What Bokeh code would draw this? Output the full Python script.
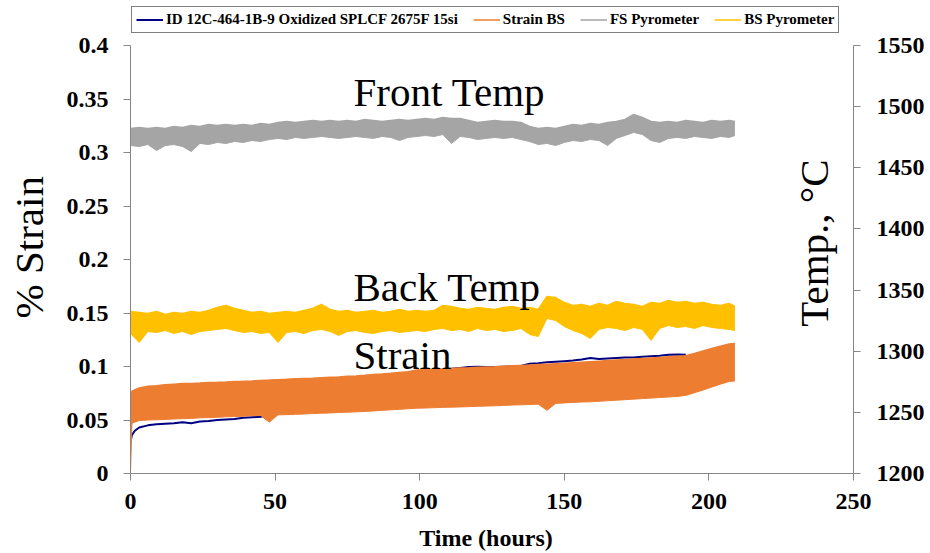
from bokeh.plotting import figure
from bokeh.models import Range1d, LinearAxis, FixedTicker, Legend, LegendItem, Label
from bokeh.embed import file_html
from bokeh.resources import INLINE

# ---------------- data ----------------
TIME = [0, 3, 6, 9, 12, 15, 18, 21, 24, 27, 30, 33, 36, 39, 42, 45, 48, 51, 54, 57,
        60, 63, 66, 69, 72, 75, 78, 81, 84, 87, 90, 93, 96, 99, 102, 105, 108, 111, 114, 117,
        120, 123, 126, 129, 132, 135, 138, 141, 144, 147, 150, 153, 156, 159, 162, 165, 168, 171, 174, 177,
        180, 183, 186, 189, 192, 195, 198, 201, 204, 207, 209]

FS_TOP = [1482.1, 1482.9, 1482.1, 1482.9, 1482.1, 1483.8, 1482.9, 1484.6, 1483.8, 1485.4,
          1484.6, 1485.4, 1484.6, 1485.4, 1484.6, 1486.2, 1485.4, 1487.0, 1487.9, 1487.0,
          1487.9, 1488.7, 1487.9, 1488.7, 1487.9, 1488.7, 1487.9, 1489.5, 1488.7, 1487.9,
          1488.7, 1489.5, 1488.7, 1489.5, 1490.3, 1489.5, 1491.1, 1490.3, 1490.3, 1488.7,
          1487.0, 1487.9, 1488.7, 1487.9, 1487.9, 1487.0, 1483.8, 1482.1, 1482.9, 1482.1,
          1483.8, 1485.4, 1484.6, 1486.2, 1485.4, 1487.0, 1487.9, 1489.5, 1493.6, 1491.1,
          1487.9, 1487.0, 1487.9, 1487.0, 1488.7, 1487.9, 1487.0, 1488.7, 1487.9, 1488.7,
          1487.9]
FS_BOTTOM = [1468.2, 1467.4, 1469.0, 1464.1, 1468.2, 1469.0, 1467.4, 1463.3, 1469.9, 1469.0,
             1470.7, 1469.9, 1471.5, 1470.7, 1472.3, 1471.5, 1473.1, 1474.0, 1473.1, 1474.8,
             1474.0, 1474.8, 1475.6, 1474.8, 1474.0, 1474.8, 1475.6, 1474.8, 1474.0, 1475.6,
             1474.8, 1472.3, 1474.8, 1475.6, 1476.4, 1475.6, 1477.2, 1469.9, 1475.6, 1474.8,
             1473.1, 1474.0, 1474.8, 1474.0, 1474.8, 1473.1, 1471.5, 1469.0, 1469.9, 1468.2,
             1470.7, 1472.3, 1471.5, 1473.1, 1472.3, 1468.2, 1474.0, 1476.4, 1478.9, 1477.2,
             1472.3, 1470.7, 1474.0, 1474.8, 1474.0, 1475.6, 1474.8, 1474.0, 1475.6, 1474.8,
             1476.4]

BS_TOP = [1332.5, 1331.7, 1330.8, 1332.5, 1330.0, 1331.7, 1330.8, 1332.5, 1331.7, 1333.3,
          1335.8, 1337.4, 1334.9, 1333.3, 1331.7, 1332.5, 1330.8, 1331.7, 1332.5, 1331.7,
          1333.3, 1334.9, 1338.2, 1334.1, 1332.5, 1333.3, 1331.7, 1332.5, 1333.3, 1331.7,
          1332.5, 1334.1, 1332.5, 1333.3, 1332.5, 1333.3, 1337.4, 1336.6, 1334.9, 1334.1,
          1335.8, 1334.9, 1334.1, 1335.8, 1336.6, 1334.9, 1335.8, 1334.1, 1344.8, 1343.9,
          1339.8, 1337.4, 1338.2, 1336.6, 1339.0, 1337.4, 1340.7, 1339.0, 1338.2, 1336.6,
          1339.8, 1339.0, 1341.5, 1339.8, 1340.7, 1339.0, 1339.8, 1338.2, 1337.4, 1339.0,
          1336.6]
BS_BOTTOM = [1314.5, 1307.1, 1316.1, 1315.3, 1316.9, 1314.5, 1316.1, 1313.7, 1316.1, 1316.9,
             1317.8, 1318.6, 1316.9, 1315.3, 1316.1, 1314.5, 1315.3, 1307.1, 1315.3, 1316.1,
             1314.5, 1316.9, 1317.8, 1316.1, 1312.9, 1316.1, 1316.9, 1315.3, 1314.5, 1316.1,
             1316.9, 1315.3, 1316.1, 1316.9, 1316.1, 1317.8, 1318.6, 1316.9, 1317.8, 1316.1,
             1318.6, 1316.9, 1317.8, 1316.1, 1316.9, 1318.6, 1313.7, 1312.0, 1326.8, 1325.1,
             1320.2, 1316.9, 1314.5, 1310.4, 1317.8, 1319.4, 1318.6, 1316.9, 1319.4, 1317.8,
             1308.8, 1318.6, 1321.0, 1319.4, 1320.2, 1318.6, 1321.0, 1319.4, 1318.6, 1317.8,
             1316.9]

STRAIN_TIME = [0, 0.5, 3, 6, 9, 12, 15, 18, 21, 24, 27, 30, 33, 36, 39, 42, 45, 48, 51, 54, 57,
               60, 63, 66, 69, 72, 75, 78, 81, 84, 87, 90, 93, 96, 99, 102, 105, 108, 111, 114, 117,
               120, 123, 126, 129, 132, 135, 138, 141, 144, 147, 150, 153, 156, 159, 162, 165, 168,
               171, 174, 177, 180, 183, 186, 189, 192, 195, 198, 201, 204, 207, 209]
STRAIN_TOP = [0.072, 0.077,
              0.080, 0.0815, 0.082, 0.083, 0.0835, 0.084, 0.0842, 0.0845, 0.085, 0.0852,
              0.0855, 0.086, 0.0862, 0.0865, 0.087, 0.0873, 0.0877, 0.088, 0.0885, 0.0888,
              0.089, 0.0895, 0.090, 0.0903, 0.0908, 0.0912, 0.0918, 0.0925, 0.093, 0.0937,
              0.0945, 0.0952, 0.0968, 0.0971, 0.0975, 0.0978, 0.0982, 0.0985, 0.0988, 0.0992,
              0.0995, 0.0998, 0.1002, 0.1006, 0.101, 0.1014, 0.1018, 0.1022, 0.1026, 0.103,
              0.1035, 0.104, 0.1045, 0.105, 0.1055, 0.106, 0.1065, 0.107, 0.1075, 0.108,
              0.1085, 0.109, 0.1095, 0.110, 0.1122, 0.1145, 0.1168, 0.119, 0.121, 0.1215]
STRAIN_BOTTOM = [0.0, 0.047,
                 0.0495, 0.050, 0.0502, 0.0505, 0.051, 0.0512, 0.0515, 0.052, 0.0522, 0.0525,
                 0.053, 0.0532, 0.0535, 0.054, 0.0542, 0.048, 0.0548, 0.055, 0.0553, 0.0556,
                 0.056, 0.0563, 0.0566, 0.057, 0.0573, 0.0576, 0.058, 0.0585, 0.059, 0.0595,
                 0.060, 0.0605, 0.061, 0.0612, 0.0615, 0.0618, 0.062, 0.0622, 0.0625, 0.0628,
                 0.063, 0.0633, 0.0636, 0.064, 0.0642, 0.0645, 0.0648, 0.059, 0.0655, 0.066,
                 0.0664, 0.0668, 0.067, 0.0675, 0.068, 0.0685, 0.069, 0.0695, 0.070, 0.0705,
                 0.071, 0.0715, 0.072, 0.073, 0.0755, 0.078, 0.0808, 0.0835, 0.086, 0.0865]

ID_TIME = [0, 0.5, 1.5, 3, 6, 9, 12, 15, 18, 21, 24, 27, 30, 33, 36, 39, 42, 45, 48, 51, 54, 57,
           60, 63, 66, 69, 72, 75, 78, 81, 84, 87, 90, 93, 96, 99, 102, 105, 108, 111, 114, 117,
           120, 123, 126, 129, 132, 135, 138, 141, 144, 147, 150, 153, 156, 159, 162, 165, 168,
           171, 174, 177, 180, 183, 186, 189, 192]
ID_STRAIN = [0.030, 0.036, 0.040,
             0.043, 0.045, 0.046, 0.0465, 0.047, 0.048, 0.047, 0.0485, 0.049, 0.050,
             0.0505, 0.051, 0.052, 0.0525, 0.053, 0.054, 0.056, 0.060, 0.064, 0.068,
             0.071, 0.074, 0.077, 0.079, 0.081, 0.083, 0.085, 0.087, 0.089, 0.091,
             0.093, 0.094, 0.095, 0.0955, 0.096, 0.097, 0.098, 0.0985, 0.0995, 0.0998,
             0.0995, 0.0995, 0.0998, 0.100, 0.1005, 0.1025, 0.103, 0.104, 0.1045, 0.105,
             0.1055, 0.1065, 0.108, 0.107, 0.1075, 0.108, 0.1083, 0.1085, 0.109, 0.1095,
             0.110, 0.111, 0.1112, 0.111]

X_TICKS = [0, 50, 100, 150, 200, 250]
STRAIN_TICKS = [0, 0.05, 0.1, 0.15, 0.2, 0.25, 0.3, 0.35, 0.4]
STRAIN_TICK_LABELS = ["0", "0.05", "0.1", "0.15", "0.2", "0.25", "0.3", "0.35", "0.4"]
TEMP_TICKS = [1200, 1250, 1300, 1350, 1400, 1450, 1500, 1550]

SERIES_NAMES = ["ID 12C-464-1B-9 Oxidized SPLCF 2675F 15si", "Strain BS", "FS Pyrometer", "BS Pyrometer"]

# ---------------- figure ----------------
SERIF = "Liberation Serif"
BLUE, ORANGE, GRAY, YELLOW = "#000080", "#ED7D31", "#A5A5A5", "#FFC000"
AXIS_COLOR = "#868686"
NBSP = "\u00a0"

# the frame reaches the top of the canvas so that the legend above the axes is not clipped;
# the axes themselves are bounded to 0..0.4 and 1200..1550
STRAIN_MIN, STRAIN_MAX = 0, 0.4
TEMP_MIN, TEMP_MAX = 1200, 1550
TOP_PAD_PX, PLOT_H_PX = 45, 428
STRAIN_TOP_RANGE = STRAIN_MAX + (STRAIN_MAX - STRAIN_MIN) * TOP_PAD_PX / PLOT_H_PX
TEMP_TOP_RANGE = TEMP_MAX + (TEMP_MAX - TEMP_MIN) * TOP_PAD_PX / PLOT_H_PX

p = figure(width=930, height=553, x_range=Range1d(0, 250), y_range=Range1d(STRAIN_MIN, STRAIN_TOP_RANGE),
           output_backend="svg", toolbar_location=None,
           min_border_left=130, min_border_right=77, min_border_top=0, min_border_bottom=80)
p.extra_y_ranges = {"temp": Range1d(TEMP_MIN, TEMP_TOP_RANGE)}
p.xgrid.visible = False
p.ygrid.visible = False
p.outline_line_color = None
p.background_fill_color = "white"
p.border_fill_color = "white"

right_axis = LinearAxis(y_range_name="temp")
p.add_layout(right_axis, "right")

p.xaxis[0].ticker = FixedTicker(ticks=X_TICKS)
p.yaxis[0].ticker = FixedTicker(ticks=STRAIN_TICKS)
p.yaxis[0].major_label_overrides = {t: s for t, s in zip(STRAIN_TICKS, STRAIN_TICK_LABELS)}
p.yaxis[0].bounds = (STRAIN_MIN, STRAIN_MAX)
right_axis.ticker = FixedTicker(ticks=TEMP_TICKS)
right_axis.bounds = (TEMP_MIN, TEMP_MAX)

for ax in [p.xaxis[0], p.yaxis[0], right_axis]:
    ax.axis_line_color = AXIS_COLOR
    ax.axis_line_width = 1
    ax.major_tick_line_color = AXIS_COLOR
    ax.major_tick_out = 7
    ax.major_tick_in = 0
    ax.minor_tick_line_color = None
    ax.major_label_text_font = SERIF
    ax.major_label_text_font_style = "bold"
    ax.major_label_text_font_size = "24px"
    ax.major_label_text_color = "black"
p.yaxis[0].major_label_standoff = 15
right_axis.major_label_standoff = 16
p.xaxis[0].major_label_standoff = 13

# axis titles (non-breaking spaces only nudge the centred text)
p.yaxis[0].axis_label = "% Strain" + NBSP * 2
p.yaxis[0].axis_label_text_font = SERIF
p.yaxis[0].axis_label_text_font_style = "normal"
p.yaxis[0].axis_label_text_font_size = "41px"
p.yaxis[0].axis_label_text_color = "black"
p.yaxis[0].axis_label_standoff = 12

p.xaxis[0].axis_label = "Time (hours)" + NBSP * 2
p.xaxis[0].axis_label_text_font = SERIF
p.xaxis[0].axis_label_text_font_style = "bold"
p.xaxis[0].axis_label_text_font_size = "24px"
p.xaxis[0].axis_label_text_color = "black"
p.xaxis[0].axis_label_standoff = 13

# ---------------- series ----------------
p.varea(x=TIME, y1=FS_BOTTOM, y2=FS_TOP, fill_color=GRAY, y_range_name="temp")
fs_top = p.line(TIME, FS_TOP, line_color=GRAY, line_width=1.5, y_range_name="temp")
p.line(TIME, FS_BOTTOM, line_color=GRAY, line_width=1, y_range_name="temp")

p.varea(x=TIME, y1=BS_BOTTOM, y2=BS_TOP, fill_color=YELLOW, y_range_name="temp")
bs_top = p.line(TIME, BS_TOP, line_color=YELLOW, line_width=1.5, y_range_name="temp")
p.line(TIME, BS_BOTTOM, line_color=YELLOW, line_width=1, y_range_name="temp")

id_line = p.line(ID_TIME, ID_STRAIN, line_color=BLUE, line_width=2)

p.varea(x=STRAIN_TIME, y1=STRAIN_BOTTOM, y2=STRAIN_TOP, fill_color=ORANGE)
st_top = p.line(STRAIN_TIME, STRAIN_TOP, line_color=ORANGE, line_width=1.5)
p.line(STRAIN_TIME, STRAIN_BOTTOM, line_color=ORANGE, line_width=1)

# ---------------- legend ----------------
legend = Legend(
    items=[LegendItem(label=SERIES_NAMES[0], renderers=[id_line]),
           LegendItem(label=SERIES_NAMES[1], renderers=[st_top]),
           LegendItem(label=SERIES_NAMES[2], renderers=[fs_top]),
           LegendItem(label=SERIES_NAMES[3], renderers=[bs_top])],
    location=(1, 440), orientation="horizontal",
    label_text_font=SERIF, label_text_font_style="bold", label_text_font_size="15px",
    label_text_color="black",
    glyph_width=27, glyph_height=15, label_height=15, label_standoff=3,
    spacing=15, padding=4, margin=0,
    border_line_color="black", border_line_width=1,
    background_fill_color="white", background_fill_alpha=1.0,
)
p.add_layout(legend)

# ---------------- text annotations ----------------
def big_label(x, y, text, **kw):
    lab = Label(x=x, y=y, text=text, text_font=SERIF, text_font_size="41px",
                text_color="black", text_baseline="middle", **kw)
    p.add_layout(lab)

big_label(77.1, 0.357, "Front Temp")
big_label(77.1, 0.1741, "Back Temp")
big_label(77.1, 0.1103, "Strain")
big_label(236.4, 0.2154, "Temp., \u00b0C", angle=1.5708, text_align="center")

open("out.html", "w").write(file_html(p, INLINE))
